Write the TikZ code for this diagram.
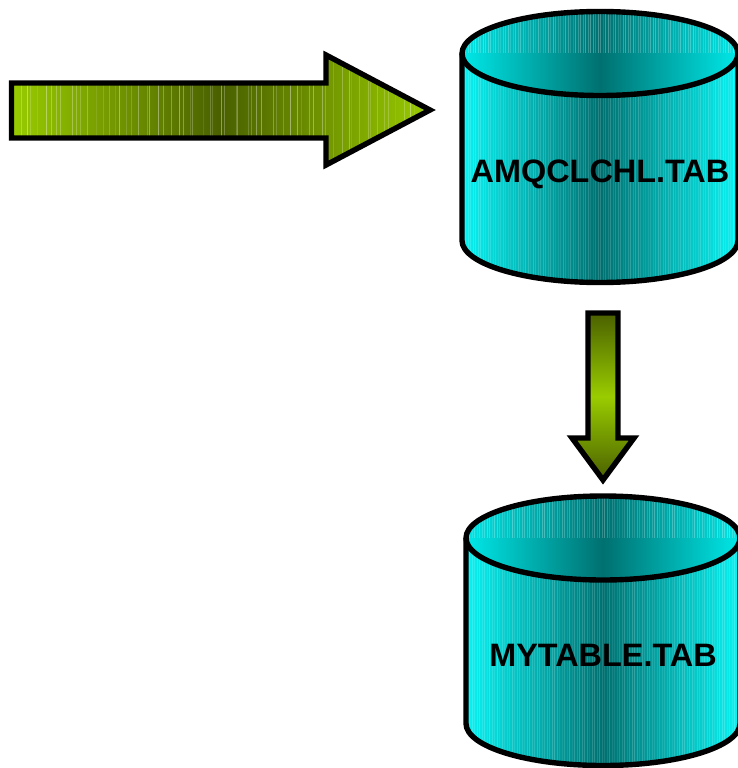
\documentclass[tikz,border=0pt]{standalone}
\usepackage{fontspec}
\setmainfont{Liberation Sans}
\definecolor{cyanedge}{HTML}{08F4F4}
\definecolor{cyanmid}{HTML}{007070}
\definecolor{lidedge}{HTML}{00E8E8}
\definecolor{greenedge}{HTML}{99CC00}
\definecolor{greenmid}{HTML}{4A6000}
\tikzset{
  outline/.style={draw=black,line width=5.4pt,miter limit=10},
  cylshade/.style={left color=cyanedge,right color=cyanedge,middle color=cyanmid},
  lidshade/.style={left color=lidedge,right color=lidedge,middle color=cyanmid},
  greenh/.style={left color=greenedge,right color=greenedge,middle color=greenmid},
  greenv/.style={top color=greenmid,bottom color=greenmid,middle color=greenedge},
  label/.style={font=\bfseries\fontsize{32.4}{36}\selectfont,text=black,inner sep=0pt,anchor=base},
  rib/.style={white,line width=.8pt},
}
% #1 centre x, #2 lid centre y, #3 base centre y, #4 rx, #5 ry, #6 text, #7 name, #8 text baseline y
\newcommand{\drum}[8]{%
  \begin{scope}
    \clip (#1-#4,#2) -- (#1-#4,#3) arc[start angle=180,end angle=360,x radius=#4,y radius=-#5] -- (#1+#4,#2) -- cycle;
    \shade[cylshade] (#1-#4,#2-#5) rectangle (#1+#4,#3+#5);
    \foreach \i in {0,...,109} {
      \pgfmathsetmacro{\xx}{#1-#4+2.5*\i+1}
      \pgfmathsetmacro{\op}{0.07+0.12*rnd}
      \draw[rib,opacity=\op] (\xx,#2-#5) -- (\xx,#3+#5);
    }
  \end{scope}
  \begin{scope}
    \clip (#1,#2) ellipse[x radius=#4,y radius=#5];
    \shade[lidshade] (#1-#4,#2-#5) rectangle (#1+#4,#2+#5);
    \foreach \i in {0,...,109} {
      \pgfmathsetmacro{\xx}{#1-#4+2.5*\i+1}
      \pgfmathsetmacro{\op}{0.1+0.18*rnd}
      \draw[rib,opacity=\op] (\xx,#2-#5) -- (\xx,#2);
    }
  \end{scope}
  \draw[outline] (#1-#4,#2) -- (#1-#4,#3) arc[start angle=180,end angle=360,x radius=#4,y radius=-#5] -- (#1+#4,#2);
  \draw[outline] (#1,#2) ellipse[x radius=#4,y radius=#5];
  \node[label] (#7) at (#1,#8) {#6};
}
\begin{document}
\begin{tikzpicture}[x=1pt,y=-1pt]
\useasboundingbox (0,0) rectangle (738,768);
\clip (0,0) rectangle (738,768);
\pgfmathsetseed{4217}
% horizontal arrow
\def\hpath{(11.5,83) -- (326,83) -- (326,55) -- (430,110) -- (326,165) -- (326,138) -- (11.5,138) -- cycle}
\shade[greenh] \hpath;
\begin{scope}
  \clip \hpath;
  \foreach \i in {0,...,64} {
    \pgfmathsetmacro{\xx}{16+6.3*\i+6*rnd}
    \pgfmathsetmacro{\op}{0.08+0.32*rnd}
    \draw[rib,opacity=\op] (\xx,50) -- (\xx,170);
  }
\end{scope}
\draw[outline] \hpath;
% vertical arrow
\def\vpath{(588,313) -- (618,313) -- (618,438) -- (634,438) -- (603,480) -- (572,438) -- (588,438) -- cycle}
\shade[greenv] \vpath;
\draw[outline] \vpath;
% drums
\drum{600}{53.5}{240.5}{138}{42}{AMQCLCHL.TAB}{drumA}{182}
\drum{603}{538}{723.5}{137}{42}{MYTABLE.TAB}{drumB}{666}
\end{tikzpicture}
\end{document}
